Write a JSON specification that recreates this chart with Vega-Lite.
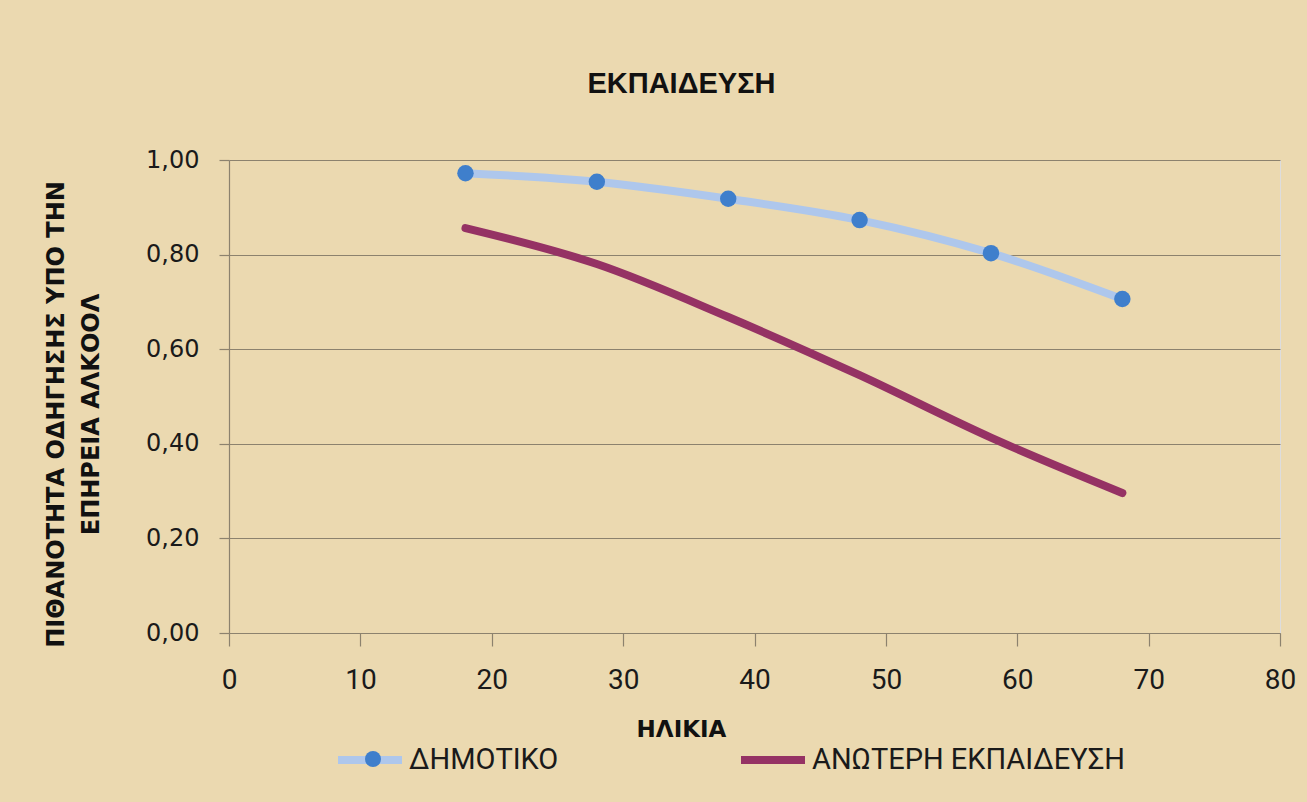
{
  "$schema": "https://vega.github.io/schema/vega-lite/v6.json",
  "width": 1051,
  "height": 473,
  "autosize": {"type": "none"},
  "padding": {"left": 229, "top": 160, "right": 27, "bottom": 169},
  "background": "#EBD9B0",
  "title": {
    "text": "ΕΚΠΑΙΔΕΥΣΗ",
    "font": "Liberation Sans",
    "fontSize": 29,
    "fontWeight": "bold",
    "color": "#111111",
    "anchor": "middle",
    "frame": "group",
    "dx": -73,
    "offset": 26,
    "baseline": "alphabetic"
  },
  "data": {
    "values": [
      {"series": "ΔΗΜΟΤΙΚΟ", "age": 18, "p": 0.972},
      {"series": "ΔΗΜΟΤΙΚΟ", "age": 28, "p": 0.954},
      {"series": "ΔΗΜΟΤΙΚΟ", "age": 38, "p": 0.918},
      {"series": "ΔΗΜΟΤΙΚΟ", "age": 48, "p": 0.873},
      {"series": "ΔΗΜΟΤΙΚΟ", "age": 58, "p": 0.803},
      {"series": "ΔΗΜΟΤΙΚΟ", "age": 68, "p": 0.706},
      {"series": "ΑΝΩΤΕΡΗ ΕΚΠΑΙΔΕΥΣΗ", "age": 18, "p": 0.856},
      {"series": "ΑΝΩΤΕΡΗ ΕΚΠΑΙΔΕΥΣΗ", "age": 28, "p": 0.78},
      {"series": "ΑΝΩΤΕΡΗ ΕΚΠΑΙΔΕΥΣΗ", "age": 38, "p": 0.668},
      {"series": "ΑΝΩΤΕΡΗ ΕΚΠΑΙΔΕΥΣΗ", "age": 48, "p": 0.545},
      {"series": "ΑΝΩΤΕΡΗ ΕΚΠΑΙΔΕΥΣΗ", "age": 58, "p": 0.413},
      {"series": "ΑΝΩΤΕΡΗ ΕΚΠΑΙΔΕΥΣΗ", "age": 68, "p": 0.296}
    ]
  },
  "encoding": {
    "x": {
      "field": "age",
      "type": "quantitative",
      "scale": {"domain": [0, 80], "nice": false, "zero": false},
      "axis": {
        "title": "ΗΛΙΚΙΑ",
        "values": [0, 10, 20, 30, 40, 50, 60, 70, 80],
        "grid": false,
        "domainColor": "#8C826E",
        "domainWidth": 1.2,
        "tickColor": "#8C826E",
        "tickWidth": 1.2,
        "tickSize": 13,
        "labelFont": "Roboto",
        "labelFontSize": 28,
        "labelColor": "#1a1a1a",
        "labelPadding": 20,
        "labelFlush": false,
        "titleFont": "DejaVu Sans",
        "titleFontSize": 23,
        "titleFontWeight": "bold",
        "titleColor": "#111111",
        "titleX": 452,
        "titlePadding": 24
      }
    },
    "y": {
      "field": "p",
      "type": "quantitative",
      "scale": {"domain": [0, 1], "nice": false},
      "axis": {
        "title": ["ΠΙΘΑΝΟΤΗΤΑ ΟΔΗΓΗΣΗΣ ΥΠΟ ΤΗΝ", "ΕΠΗΡΕΙΑ ΑΛΚΟΟΛ"],
        "values": [0, 0.2, 0.4, 0.6, 0.8, 1],
        "labelExpr": "replace(format(datum.value, '.2f'), '.', ',')",
        "grid": true,
        "gridColor": "#8C826E",
        "gridWidth": 1.2,
        "domainColor": "#8C826E",
        "domainWidth": 1.2,
        "tickColor": "#8C826E",
        "tickWidth": 1.2,
        "tickSize": 10,
        "labelFont": "DejaVu Sans",
        "labelFontSize": 24,
        "labelColor": "#1a1a1a",
        "labelPadding": 20,
        "labelFlush": false,
        "titleFont": "DejaVu Sans",
        "titleFontSize": 24,
        "titleFontWeight": "bold",
        "titleColor": "#111111",
        "titleLineHeight": 35,
        "titlePadding": 42,
        "titleY": 254
      }
    }
  },
  "layer": [
    {
      "mark": {"type": "line", "interpolate": "monotone", "strokeWidth": 8, "strokeCap": "round"},
      "encoding": {
        "color": {
          "field": "series",
          "type": "nominal",
          "scale": {"domain": ["ΔΗΜΟΤΙΚΟ", "ΑΝΩΤΕΡΗ ΕΚΠΑΙΔΕΥΣΗ"], "range": ["#AEC7EC", "#953264"]},
          "legend": {
            "title": null,
            "orient": "none",
            "legendX": 105,
            "legendY": 564,
            "direction": "horizontal",
            "columns": 2,
            "symbolType": "stroke",
            "symbolSize": 4096,
            "symbolStrokeWidth": 8,
            "labelFont": "Roboto",
            "labelFontSize": 29,
            "labelColor": "#1a1a1a",
            "labelOffset": 3,
            "columnPadding": 166,
            "padding": 0,
            "labelLimit": 400
          }
        }
      }
    },
    {
      "transform": [{"filter": "datum.series === 'ΔΗΜΟΤΙΚΟ'"}],
      "mark": {"type": "circle", "size": 270, "opacity": 1},
      "encoding": {
        "fill": {
          "field": "series",
          "type": "nominal",
          "scale": {"domain": ["ΔΗΜΟΤΙΚΟ"], "range": ["#3F7FCC"]},
          "legend": {
            "title": null,
            "orient": "none",
            "legendX": 128,
            "legendY": 583,
            "symbolType": "circle",
            "symbolSize": 255,
            "symbolStrokeWidth": 0,
            "symbolOpacity": 1,
            "labelExpr": "''",
            "labelFontSize": 32,
            "padding": 0
          }
        }
      }
    }
  ]
}
